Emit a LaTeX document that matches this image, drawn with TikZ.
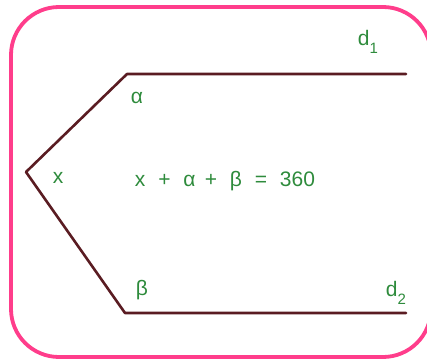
\documentclass[tikz,border=0pt]{standalone}
\usepackage{fontspec}
\setmainfont{Liberation Sans}
\definecolor{framepink}{HTML}{FF3D8B}
\definecolor{linemaroon}{HTML}{5A1C22}
\definecolor{labgreen}{HTML}{2E8B3C}
\newcommand{\lowsub}[1]{\raisebox{-0.35em}{\fontsize{15}{18}\selectfont #1}}
\begin{document}
\begin{tikzpicture}[x=1pt,y=-1pt,
  lab/.style={text=labgreen,font=\fontsize{21}{24}\selectfont,inner sep=0pt},
  ray/.style={draw=linemaroon,line width=2.6pt,line cap=round,line join=round}]
\useasboundingbox (0,0) rectangle (427,361);
\draw[framepink,line width=3.8pt,rounded corners=48pt] (11,7) rectangle (431,357);
\coordinate (e1) at (406,74);
\coordinate (a) at (127,74);
\coordinate (v) at (26,172);
\coordinate (b) at (125,313);
\coordinate (e2) at (406,313);
\draw[ray] (e1) -- (a) -- (v) -- (b) -- (e2);
\node[lab] (d1) at (368,42) {d\lowsub{1}};
\node[lab] (al) at (137,98) {α};
\node[lab] (xl) at (58,178) {x};
\node[lab] (eq) at (225,181) {x\,\, +\,\, α\, +\,\, β\,\, =\,\, 360};
\node[lab] (be) at (142,290) {β};
\node[lab] (d2) at (396,293) {d\lowsub{2}};
\end{tikzpicture}
\end{document}
